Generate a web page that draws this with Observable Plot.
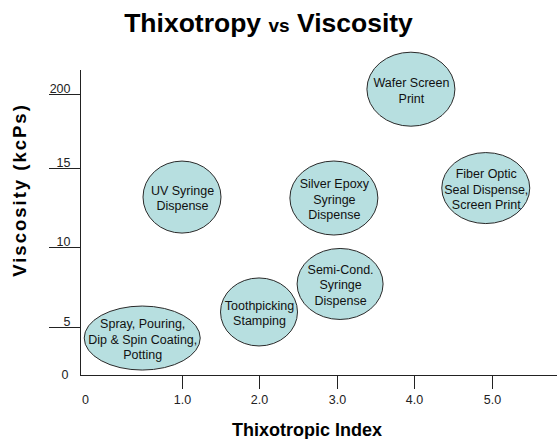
<!DOCTYPE html>
<html>
<head>
<meta charset="utf-8">
<script src="https://cdn.jsdelivr.net/npm/d3@7"></script>
<script src="https://cdn.jsdelivr.net/npm/@observablehq/plot@0.6"></script>
<style>
  body { margin: 0; background: #fff; font-family: "Liberation Sans", Arial, sans-serif; }
  #title { height: 50px; box-sizing: border-box; padding-top: 8px; padding-right: 20px; text-align: center;
           font-weight: bold; font-size: 26.5px; line-height: 30px; color: #000; }
  #title .vs { font-size: 19px; }
</style>
</head>
<body>
<div id="title">Thixotropy <span class="vs">vs</span> Viscosity</div>
<div id="chart"></div>
<script>
// ---- data ----
const applications = [
  "Spray, Pouring,\nDip & Spin Coating,\nPotting",
  "Toothpicking\nStamping",
  "Semi-Cond.\nSyringe\nDispense",
  "UV Syringe\nDispense",
  "Silver Epoxy\nSyringe\nDispense",
  "Fiber Optic\nSeal Dispense,\nScreen Print",
  "Wafer Screen\nPrint"
];
const thixotropicIndex = [0.61, 2.0, 3.04, 1.0, 2.96, 4.92, 3.96];
const viscosityKcps = [3.85, 5.94, 7.69, 13.16, 13.1, 13.73, 212];

const xTicks = [0, 1, 2, 3, 4, 5];
const xTickLabels = ["0", "1.0", "2.0", "3.0", "4.0", "5.0"];
const yTicks = [0, 5, 10, 15, 200];
const yTickLabels = ["0", "5", "10", "15", "200"];

const xTitle = "Thixotropic Index";
const yTitle = "Viscosity (kcPs)";

// ---- styling (sizes of the bubbles, in px) ----
const bubbleRx = [58, 38.5, 43, 39, 44, 44, 44];
const bubbleRy = [32, 34, 35.5, 36, 37, 35.5, 37];
const bubbleFill = "#b7dfe0";
const bubbleStroke = "#2a2a2a";

const rows = applications.map((label, i) => ({
  label, x: thixotropicIndex[i], y: viscosityKcps[i], rx: bubbleRx[i], ry: bubbleRy[i]
}));
const yTickRows = yTicks.map((value, i) => ({value, label: yTickLabels[i]}));
const xTickRows = xTicks.map((value, i) => ({value, label: xTickLabels[i]}));

// custom mark: ellipses positioned through Plot's scales
function ellipses(index, scales) {
  const g = d3.create("svg:g").attr("aria-label", "ellipse");
  g.selectAll("ellipse")
    .data(rows)
    .join("ellipse")
    .attr("cx", d => scales.x(d.x))
    .attr("cy", d => scales.y(d.y))
    .attr("rx", d => d.rx)
    .attr("ry", d => d.ry)
    .attr("fill", bubbleFill)
    .attr("stroke", bubbleStroke)
    .attr("stroke-width", 1);
  return g.node();
}

const chart = Plot.plot({
  width: 557,
  height: 389,
  marginLeft: 80,
  marginRight: 0,
  marginTop: 20,
  marginBottom: 64,
  style: {fontFamily: "'Liberation Sans', Arial, sans-serif", fontSize: "12.5px", color: "#222", background: "#fff"},
  x: {
    type: "linear",
    domain: xTicks,
    range: [80, 182, 259, 337, 414, 492],
    ticks: xTicks.filter(d => d !== 0),
    tickFormat: d => xTickLabels[xTicks.indexOf(d)],
    tickSize: 14,
    tickPadding: 6,
    label: null,
    axis: "bottom"
  },
  y: {
    type: "linear",
    domain: yTicks,
    range: [325, 277, 197, 118, 44],
    ticks: yTicks.filter(d => d !== 0),
    tickFormat: () => "",
    tickSize: 31,
    label: null,
    axis: "left"
  },
  marks: [
    Plot.ruleX([0], {stroke: "#222"}),
    Plot.ruleY([0], {stroke: "#222"}),
    ellipses,
    Plot.text(rows, {x: "x", y: "y", text: "label", fontSize: 12.5, lineHeight: 1.25, fill: "#111"}),
    Plot.text(yTickRows.filter(d => d.value !== 0), {y: "value", text: "label", frameAnchor: "left", textAnchor: "end", dx: -10, dy: -6, fontSize: 12.5, fill: "#222"}),
    Plot.text(yTickRows.filter(d => d.value === 0), {y: "value", text: "label", frameAnchor: "left", textAnchor: "end", dx: -12, dy: -1, fontSize: 12.5, fill: "#222"}),
    Plot.text(xTickRows.filter(d => d.value === 0), {x: "value", text: "label", frameAnchor: "bottom", textAnchor: "middle", lineAnchor: "top", dx: 5, dy: 20, fontSize: 12.5, fill: "#222"}),
    Plot.text([xTitle], {frameAnchor: "bottom", textAnchor: "middle", lineAnchor: "middle", dx: -12, dy: 55, fontSize: 18, fontWeight: "bold", fill: "#000"}),
    Plot.text([yTitle], {frameAnchor: "left", textAnchor: "middle", lineAnchor: "middle", rotate: -90, dx: -60, dy: -33, fontSize: 18.5, fontWeight: "bold", fill: "#000"})
  ]
});
chart.querySelectorAll("text").forEach(t => { if (t.textContent === yTitle) t.style.letterSpacing = "2px"; });
document.getElementById("chart").appendChild(chart);
</script>
</body>
</html>
